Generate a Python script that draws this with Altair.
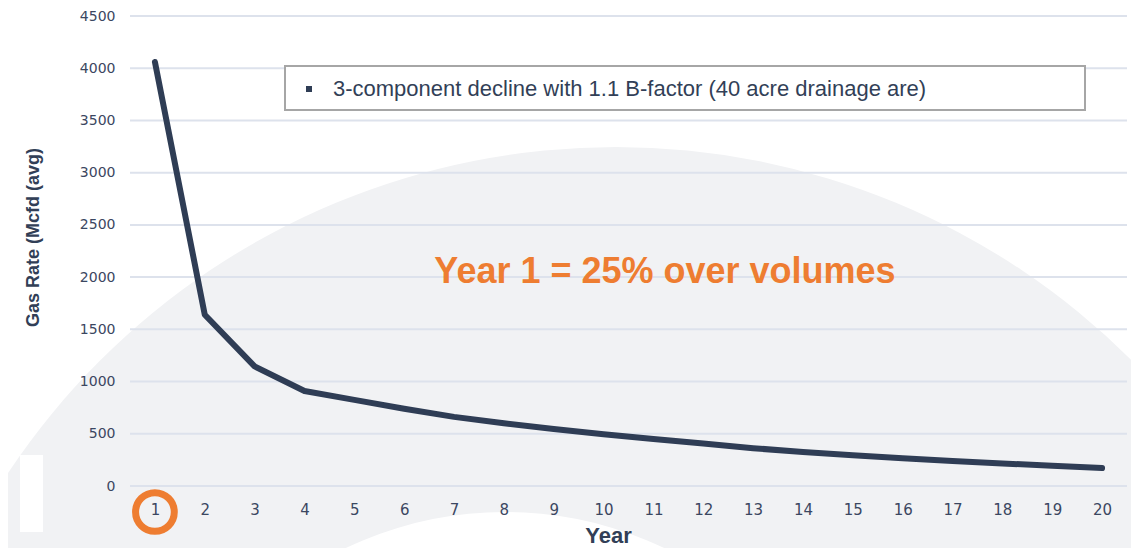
import altair as alt
import pandas as pd

# ---- data ----
years = list(range(1, 21))
gas_rate = [4060, 1640, 1145, 910, 825, 740, 662, 600, 545, 495,
            450, 408, 362, 325, 295, 266, 240, 216, 194, 172]
y_ticks = [0, 500, 1000, 1500, 2000, 2500, 3000, 3500, 4000, 4500]
series_name = "3-component decline with 1.1 B-factor (40 acre drainage are)"
annotation = "Year 1 = 25% over volumes"
highlight_year = [1]

df = pd.DataFrame({"Year": years, "Gas": gas_rate})
grid_df = pd.DataFrame({"Gas": y_ticks})
hl_df = pd.DataFrame({"Year": highlight_year})
one = pd.DataFrame({"k": [0]})

W, H = 997, 470
NAVY = "#2f3d55"
LABEL = "#3b4761"
ORANGE = "#ee7d31"
GRID = "#dde2ec"
BGGRAY = "#f1f2f4"

x_enc = alt.X(
    "Year:O",
    scale=alt.Scale(type="point", padding=0.5),
    axis=alt.Axis(
        labelAngle=0, domain=False, ticks=False, tickSize=0, grid=False, zindex=2,
        labelPadding=16, labelFontSize=15, labelColor=LABEL, labelFont="DejaVu Sans",
        titleFont="Liberation Sans", titleFontSize=22, titleFontWeight="bold",
        titleColor="#323f57", titleX=478, titleY=56, titleBaseline="alphabetic",
        titleAnchor="start", titleAlign="center",
    ),
    title="Year",
)
y_enc = alt.Y(
    "Gas:Q", scale=alt.Scale(domain=[0, 4500], nice=False),
    axis=alt.Axis(
        values=y_ticks, format="d", domain=False, ticks=False, tickSize=0, grid=False, zindex=2,
        labelPadding=15, labelFontSize=14, labelColor=LABEL, labelFont="DejaVu Sans",
        titleFont="Liberation Sans", titleFontSize=18, titleFontWeight="bold",
        titleColor="#323f57", titleAngle=-90, titleX=-97, titleY=221,
        titleAlign="center", titleBaseline="middle",
    ),
    title="Gas Rate (Mcfd (avg)",
)

# decorative background shapes
big_arc = alt.Chart(one).mark_arc(theta=0, theta2=6.2832, radius=730, color=BGGRAY).encode(
    x=alt.value(486), y=alt.value(861)
)
inner_arc = alt.Chart(one).mark_arc(theta=0, theta2=6.2832, radius=370, color="white").encode(
    x=alt.value(375), y=alt.value(866)
)
white_bar = alt.Chart(one).mark_rect(color="white").encode(
    x=alt.value(-110), x2=alt.value(-87), y=alt.value(439), y2=alt.value(516)
)

grid = alt.Chart(grid_df).mark_rule(color=GRID, strokeWidth=2).encode(
    y=y_enc, x=alt.value(0), x2=alt.value(W),
)

line = alt.Chart(df).mark_line(color=NAVY, strokeWidth=6, strokeCap="round", strokeJoin="round").encode(
    x=x_enc, y=y_enc,
)

ring = alt.Chart(hl_df).mark_point(shape="circle", filled=False, size=1500,
                                    strokeWidth=7, color=ORANGE, opacity=1).encode(
    x=x_enc, y=alt.value(496)
)

legend_box = alt.Chart(one).mark_rect(fill="white", stroke="#a6a6a6", strokeWidth=2).encode(
    x=alt.value(155), x2=alt.value(955), y=alt.value(50), y2=alt.value(94)
)
legend_sym = alt.Chart(one).mark_square(size=36, color=NAVY, opacity=1).encode(
    x=alt.value(179), y=alt.value(73)
)
legend_txt = alt.Chart(one).mark_text(
    align="left", baseline="middle", font="Liberation Sans", fontSize=22, color="#323f57"
).encode(x=alt.value(203), y=alt.value(73), text=alt.value(series_name))

annot = alt.Chart(one).mark_text(
    align="center", baseline="alphabetic", font="Liberation Sans", fontSize=36,
    fontWeight="bold", color=ORANGE
).encode(x=alt.value(535), y=alt.value(267), text=alt.value(annotation))

chart = alt.layer(
    big_arc, inner_arc, white_bar, grid, line, ring, legend_box, legend_sym, legend_txt, annot
).properties(
    width=W, height=H,
    autosize=alt.AutoSizeParams(type="none"),
    padding={"left": 122, "top": 8, "right": 4, "bottom": 62},
    background="white",
).configure_view(stroke=None)

chart.save("out.html", embed_options={"renderer": "svg", "actions": False})
